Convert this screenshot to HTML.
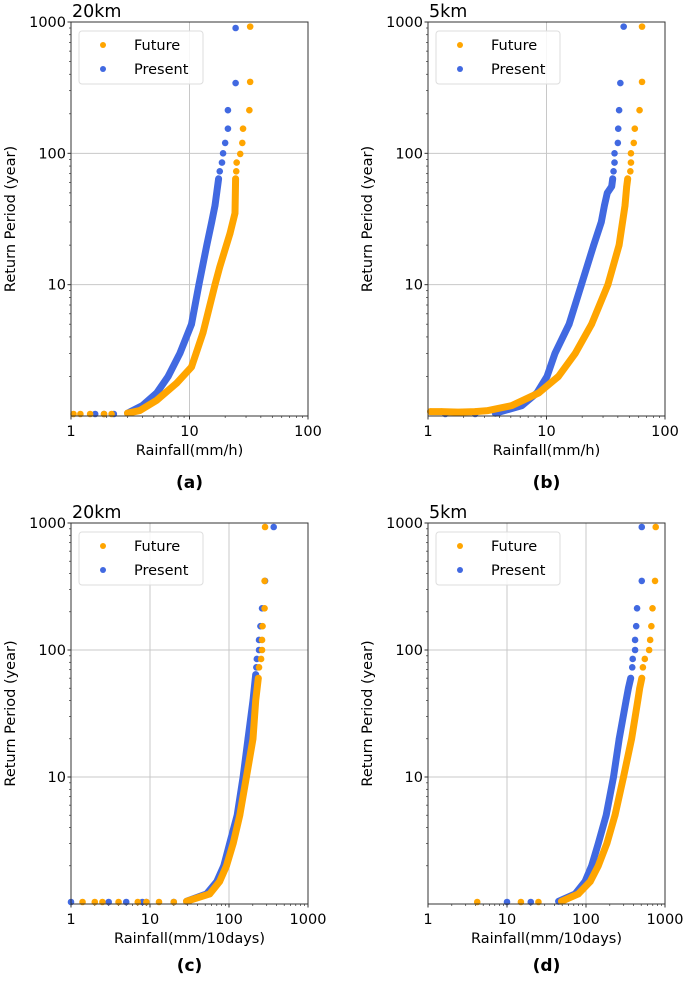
<!DOCTYPE html>
<html><head><meta charset="utf-8">
<style>
html,body{margin:0;padding:0;background:#fff;}
body{width:685px;height:978px;overflow:hidden;font-family:"Liberation Sans","DejaVu Sans",sans-serif;}
svg text{font-family:"DejaVu Sans","Liberation Sans",sans-serif;fill:#000;}
</style></head>
<body>
<svg id="fig" width="685" height="978" viewBox="0 0 685 978" xmlns="http://www.w3.org/2000/svg"></svg>
<script>
// ---- data (rainfall, return period) ----
const aFutR=[32.5,32.5,32,28.3,27.9,26.8,25,24.8,24.5,24.2,22,18,16.4,13,10.4,7.8,5.3,3.8,3.0,2.2,1.9,1.45,1.2,1.05];
const aFutT=[922,350,213,154,120,99,85,73,64,35,24.7,13.6,10,4.3,2.36,1.78,1.32,1.1,1.05,1.03,1.02,1.01,1.01,1.01];
const aPreR=[24.5,24.5,21.1,21.1,20,19.2,18.8,18,17.6,16.4,15.4,14,12,10.4,8.3,6.6,5.3,4.0,3.0,2.3,1.9,1.6];
const aPreT=[900,343,213,154,120,100,85,73,64,40,30,20,10,5,3,2,1.5,1.2,1.05,1.02,1.01,1.005];

const bFutR=[64,64,61,55.6,54.5,51.6,51.6,51,48.4,47.5,46,41,33,24,17.5,12.6,8.6,5.1,3.2,2.5,1.8,1.3,1.05];
const bFutT=[922,350,213,154,120,100,85,73,64,56,40,20,10,5,3,2,1.5,1.2,1.1,1.08,1.07,1.08,1.08];
const bPreR=[44.8,42,41,40.3,40,37.5,37.5,36.8,36.2,35.5,32.6,30.8,29,25,19.7,15.5,11.8,10.1,8.3,6.2,3.7,2.5,1.4];
const bPreT=[922,343,213,154,120,100,85,73,64,56,50,40,30,20,10,5,3,2,1.5,1.2,1.05,1.01,1.01];

const cFutR=[286,282,282,266,262,262,255,240,235,218,201,166,137,113,93,76,57,29,20,13,9,7,4,2.5,2,1.4];
const cFutT=[930,350,213,154,120,100,85,73,60,40,20,10,5,3,2,1.5,1.2,1.05,1.02,1.02,1.02,1.02,1.02,1.01,1.01,1.01];
const cPreR=[368,286,262,250,240,240,225,222,218,201,174,151,127,102,86,70,52,29,20,9,8,5,3,1];
const cPreT=[930,350,213,154,120,100,85,73,64,40,20,10,5,3,2,1.5,1.2,1.05,1.01,1.005,1.005,1.005,1.005,1.005];

const dFutR=[763,748,695,672,649,630,555,525,508,478,452,378,298,233,184,143,113,80,49,25,15,4.2];
const dFutT=[930,350,213,154,120,100,85,73,60,50,40,20,10,5,3,2,1.5,1.2,1.05,1.02,1.01,1.005];
const dPreR=[508,508,443,432,418,418,390,385,368,344,322,263,223,180,143,118,97,73,45,20,10];
const dPreT=[930,350,213,154,120,100,85,73,60,50,40,20,10,5,3,2,1.5,1.2,1.05,1.005,1.005];

const yTicks=[10,100,1000];
const yTickLabels=["10","100","1000"];
const xTicksH=[1,10,100];
const xTickLabelsH=["1","10","100"];
const xTicksD=[1,10,100,1000];
const xTickLabelsD=["1","10","100","1000"];

const NS="http://www.w3.org/2000/svg";
const fig=document.getElementById('fig');
function mk(tag,attrs,parent){const e=document.createElementNS(NS,tag);for(const k in attrs)e.setAttribute(k,attrs[k]);(parent||fig).appendChild(e);return e;}

function panel(p){
  const g=mk('g',{});
  
  
  const L=p.x0,R=p.x0+237,T=p.y0,B=p.y1;
  const xd=Math.log10(p.xmax);
  const xs=v=>L+(R-L)*Math.log10(v)/xd;
  const ys=v=>B-(B-T)*Math.log10(v)/3;
  p.xt.forEach(v=>{if(v>1&&v<p.xmax){const l=mk('line',{x1:xs(v),x2:xs(v),y1:T,y2:B,stroke:'#c8c8c8','stroke-width':1},g);}});
  yTicks.forEach(v=>{if(v<1000){const l=mk('line',{x1:L,x2:R,y1:ys(v),y2:ys(v),stroke:'#c8c8c8','stroke-width':1},g);}});
  for(let d=1;d<p.xmax;d*=10)for(let m=2;m<10;m++){const x=xs(d*m);mk('line',{x1:x,x2:x,y1:B,y2:B+2,stroke:'#333','stroke-width':0.7},g);}
  for(let d=1;d<1000;d*=10)for(let m=2;m<10;m++){const y=ys(d*m);mk('line',{x1:L-2,x2:L,y1:y,y2:y,stroke:'#333','stroke-width':0.7},g);}
  [[p.pr,p.pt,'#4169E1','present'],[p.fr,p.ft,'#FFA500','future']].forEach(([rr,tt,col,nm])=>{
    const sg=mk('g',{},g);
    
    
    const pts=[];for(let i=0;i<rr.length;i++){if(tt[i]<=65&&tt[i]>=1.04)pts.push(xs(rr[i]).toFixed(1)+','+Math.min(ys(tt[i]),B-2).toFixed(1));}
    const pl=mk('polyline',{points:pts.join(' '),fill:'none',stroke:col,'stroke-width':7,'stroke-linejoin':'round','stroke-linecap':'round'},sg);
    
    
    for(let i=0;i<rr.length;i++){const c=mk('circle',{cx:xs(rr[i]),cy:Math.min(ys(tt[i]),B-2),r:3.3,fill:col},sg);
      
      }
  });
  const fr=mk('rect',{x:L,y:T,width:R-L,height:B-T,fill:'none',stroke:'#333','stroke-width':1},g);
  
  p.xt.forEach((v,i)=>{mk('line',{x1:xs(v),x2:xs(v),y1:B,y2:B+3.5,stroke:'#333'},g);
    const t=mk('text',{x:xs(v),y:B+20,'text-anchor':'middle','font-size':14.5},g);t.textContent=p.xl[i];
    });
  yTicks.forEach((v,i)=>{mk('line',{x1:L-3.5,x2:L,y1:ys(v),y2:ys(v),stroke:'#333'},g);
    const t=mk('text',{x:L-5,y:ys(v)+5,'text-anchor':'end','font-size':14.5},g);t.textContent=yTickLabels[i];
    });
  const ti=mk('text',{x:L+1,y:T-5,'font-size':17.5},g);ti.textContent=p.title;
  
  const xl=mk('text',{x:(L+R)/2,y:B+39,'text-anchor':'middle','font-size':14.5},g);xl.textContent=p.xlabel;
  
  const yc=(T+B)/2, ylx=L-56;
  const yl=mk('text',{x:ylx,y:yc,'text-anchor':'middle','font-size':14.5,transform:'rotate(-90 '+ylx+' '+yc+')'},g);yl.textContent='Return Period (year)';
  
  const pl=mk('text',{x:(L+R)/2,y:p.labY,'text-anchor':'middle','font-size':17,'font-weight':'bold'},g);pl.textContent='('+p.id+')';
  
  const lg=mk('g',{},g);
  
  
  mk('rect',{x:L+8,y:T+9,width:124,height:53,rx:3,fill:'#fff','fill-opacity':0.85,stroke:'#ddd'},lg);
  [['Future','#FFA500',0],['Present','#4169E1',1]].forEach(([n,c,k])=>{
    const e=mk('g',{},lg);
    
    
    mk('circle',{cx:L+32,cy:T+23+k*24,r:3,fill:c},e);
    const t=mk('text',{x:L+63,y:T+28+k*24,'font-size':14.5},e);t.textContent=n;
  });
}
panel({id:'a',x0:71,y0:22,y1:416,xmax:100,xt:xTicksH,xl:xTickLabelsH,title:'20km',xlabel:'Rainfall(mm/h)',labY:488,fr:aFutR,ft:aFutT,pr:aPreR,pt:aPreT});
panel({id:'b',x0:428,y0:22,y1:416,xmax:100,xt:xTicksH,xl:xTickLabelsH,title:'5km',xlabel:'Rainfall(mm/h)',labY:488,fr:bFutR,ft:bFutT,pr:bPreR,pt:bPreT});
panel({id:'c',x0:71,y0:523,y1:904,xmax:1000,xt:xTicksD,xl:xTickLabelsD,title:'20km',xlabel:'Rainfall(mm/10days)',labY:971,fr:cFutR,ft:cFutT,pr:cPreR,pt:cPreT});
panel({id:'d',x0:428,y0:523,y1:904,xmax:1000,xt:xTicksD,xl:xTickLabelsD,title:'5km',xlabel:'Rainfall(mm/10days)',labY:971,fr:dFutR,ft:dFutT,pr:dPreR,pt:dPreT});
</script>
</body></html>
